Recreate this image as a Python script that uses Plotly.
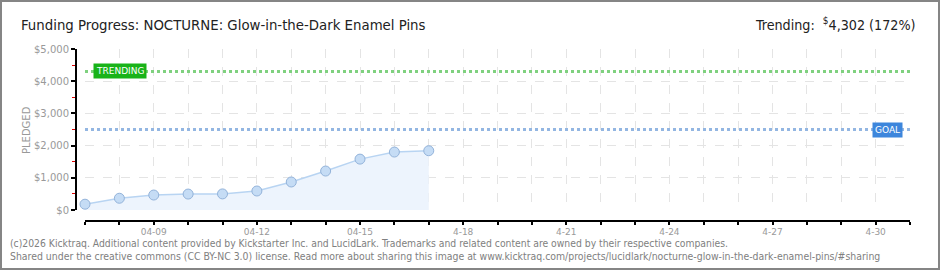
import plotly.graph_objects as go

# ---- data ----
dates = ["2026-04-07", "2026-04-08", "2026-04-09", "2026-04-10", "2026-04-11", "2026-04-12",
         "2026-04-13", "2026-04-14", "2026-04-15", "2026-04-16", "2026-04-17"]
pledged = [180, 365, 465, 495, 500, 590, 870, 1210, 1580, 1800, 1840]
goal = 2500
trending = 4302
x_start = "2026-04-07"
x_end = "2026-05-01"
all_days = ["2026-04-%02d" % d for d in range(7, 31)] + ["2026-05-01"]
label_days = {"2026-04-09": "04-09", "2026-04-12": "04-12", "2026-04-15": "04-15",
              "2026-04-18": "4-18", "2026-04-21": "4-21", "2026-04-24": "4-24",
              "2026-04-27": "4-27", "2026-04-30": "4-30"}
y_ticks = [0, 1000, 2000, 3000, 4000, 5000]
y_labels = ["$0", "$1,000", "$2,000", "$3,000", "$4,000", "$5,000"]

W, H = 940, 270
px = lambda v: v / W
py = lambda v: 1 - v / H

fig = go.Figure()
fig.add_trace(go.Scatter(
    x=dates, y=pledged, mode="lines+markers", fill="tozeroy",
    fillcolor="#edf4fd", cliponaxis=False,
    line=dict(color="#b8d4f2", width=1.5),
    marker=dict(size=10, color="#c5dcf5", line=dict(color="#93b3da", width=1)),
    hoverinfo="skip", showlegend=False))

shapes = [
    dict(type="rect", xref="paper", yref="paper", x0=px(1), x1=px(939), y0=py(269), y1=py(1),
         line=dict(color="#858585", width=2), layer="above"),
    dict(type="line", xref="x domain", yref="y", x0=0, x1=1, y0=trending, y1=trending,
         line=dict(color="#7fd17f", width=3, dash="dot"), layer="above"),
    dict(type="line", xref="x domain", yref="y", x0=0, x1=1, y0=goal, y1=goal,
         line=dict(color="#93b6e2", width=3, dash="dot"), layer="above"),
]

gray = "#8a8a8a"
fig.update_layout(
    width=W, height=H, margin=dict(l=0, r=0, t=0, b=0, pad=0, autoexpand=False),
    paper_bgcolor="white", plot_bgcolor="white",
    font=dict(family="DejaVu Sans", color=gray),
    xaxis=dict(
        domain=[px(85), px(910)], anchor="free", position=py(220.5),
        type="date", range=[x_start, x_end],
        tickvals=all_days, ticktext=[label_days.get(d, "") for d in all_days],
        tickangle=0,
        showgrid=True, gridcolor="#e4e4e4", griddash="dash", gridwidth=1,
        showline=True, linecolor="black", linewidth=2,
        ticks="outside", ticklen=3, tickwidth=2, tickcolor="black",
        tickfont=dict(size=9, color="#999999", family="DejaVu Sans"),
        zeroline=False, fixedrange=True, automargin=False),
    yaxis=dict(
        domain=[py(210), py(49)], anchor="free", position=px(76),
        range=[0, 5000], tickvals=y_ticks, ticktext=y_labels,
        showgrid=True, gridcolor="#e4e4e4", griddash="dash", gridwidth=1,
        showline=True, linecolor="black", linewidth=2,
        ticks="outside", ticklen=4, tickwidth=2, tickcolor="black",
        minor=dict(dtick=500, ticks="outside", ticklen=3, tickcolor="#e00000", tickwidth=1, showgrid=False),
        tickfont=dict(size=10, color="#999999", family="DejaVu Sans"),
        zeroline=False, fixedrange=True, automargin=False),
    shapes=shapes,
)

annotations = [
    dict(text="Funding Progress: NOCTURNE: Glow-in-the-Dark Enamel Pins", x=px(19), y=py(24),
         xanchor="left", yanchor="middle", font=dict(family="DejaVu Sans Condensed", size=14.8, color="#222222")),
    dict(text="Trending:  <sup>$</sup>4,302 (172%)", x=px(918), y=py(24),
         xanchor="right", yanchor="middle", font=dict(family="DejaVu Sans Condensed", size=14.2, color="#222222")),
    dict(text="PLEDGED", x=px(27), y=py(130), textangle=-90, xanchor="center", yanchor="middle",
         font=dict(size=10, color="#999999")),
    dict(text="(c)2026 Kicktraq. Additional content provided by Kickstarter Inc. and LucidLark. Trademarks and related content are owned by their respective companies.",
         x=px(8), y=py(243), xanchor="left", yanchor="middle",
         font=dict(family="DejaVu Sans Condensed", size=10.3, color="#808080")),
    dict(text="Shared under the creative commons (CC BY-NC 3.0) license. Read more about sharing this image at www.kicktraq.com/projects/lucidlark/nocturne-glow-in-the-dark-enamel-pins/#sharing",
         x=px(8), y=py(255.5), xanchor="left", yanchor="middle",
         font=dict(family="DejaVu Sans Condensed", size=10.4, color="#808080")),
    dict(text="TRENDING", x=px(93), y=trending, xref="paper", yref="y", xanchor="left", yanchor="middle",
         bgcolor="#19b319", borderpad=2, font=dict(size=9, color="white"), showarrow=False),
    dict(text="GOAL", x=px(872), y=goal, xref="paper", yref="y", xanchor="left", yanchor="middle",
         bgcolor="#3d86dc", borderpad=2, font=dict(size=9, color="white"), showarrow=False),
]
for a in annotations:
    a.setdefault("xref", "paper")
    a.setdefault("yref", "paper")
    a.setdefault("showarrow", False)
fig.update_layout(annotations=annotations)

fig.write_html("out.html")
